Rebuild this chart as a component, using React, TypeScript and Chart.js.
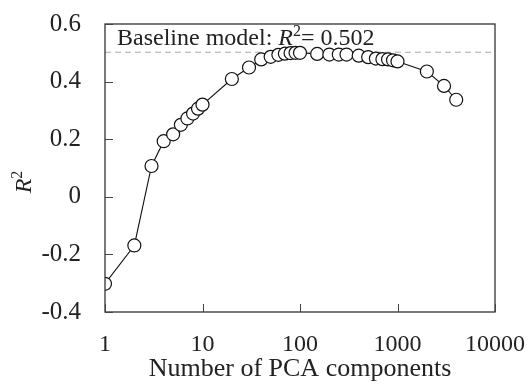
import React, { useEffect, useRef } from "react";
import { Chart, registerables } from "chart.js";

Chart.register(...registerables);

const components = [1, 2, 3, 4, 5, 6, 7, 8, 9, 10, 20, 30, 40, 50, 60, 70, 80, 90, 100, 150, 200, 250, 300, 400, 500, 600, 700, 800, 900, 1000, 2000, 3000, 4000];
const r2Values = [-0.302, -0.169, 0.107, 0.193, 0.217, 0.25, 0.272, 0.289, 0.306, 0.32, 0.409, 0.449, 0.477, 0.486, 0.493, 0.497, 0.499, 0.5, 0.5, 0.496, 0.494, 0.494, 0.494, 0.49, 0.485, 0.48, 0.478, 0.477, 0.474, 0.47, 0.435, 0.385, 0.337];
const baselineR2 = 0.502;
const xTickValues = [1, 10, 100, 1000, 10000];
const yTickValues = [-0.4, -0.2, 0, 0.2, 0.4, 0.6];
const xTitle = "Number of PCA components";
const baselineLabel = "Baseline model: ";
const baselineValueText = "= 0.502";

const FONT = "'Liberation Serif', 'Times New Roman', serif";

const decorPlugin = {
  id: "decor",
  beforeDraw(chart: any) {
    const { ctx } = chart;
    ctx.save();
    ctx.fillStyle = "#ffffff";
    ctx.fillRect(0, 0, chart.width, chart.height);
    ctx.restore();
  },
  afterDraw(chart: any) {
    const { ctx, chartArea } = chart;
    const xs = chart.scales.x;
    const ys = chart.scales.y;
    ctx.save();
    // box
    ctx.strokeStyle = "#333333";
    ctx.lineWidth = 1.3;
    ctx.strokeRect(chartArea.left, chartArea.top, chartArea.right - chartArea.left, chartArea.bottom - chartArea.top);
    // inward ticks
    ctx.lineWidth = 1;
    ctx.strokeStyle = "#444444";
    ctx.beginPath();
    xTickValues.forEach((v) => {
      const px = Math.round(xs.getPixelForValue(v)) + 0.5;
      ctx.moveTo(px, chartArea.bottom);
      ctx.lineTo(px, chartArea.bottom - 8);
    });
    yTickValues.forEach((v) => {
      const py = Math.round(ys.getPixelForValue(v)) + 0.5;
      ctx.moveTo(chartArea.left, py);
      ctx.lineTo(chartArea.left + 8, py);
    });
    ctx.stroke();

    // baseline annotation
    ctx.fillStyle = "#222222";
    ctx.textBaseline = "alphabetic";
    ctx.textAlign = "left";
    let tx = chartArea.left + 12;
    const ty = chartArea.top + 21;
    ctx.font = `24px ${FONT}`;
    ctx.fillText(baselineLabel, tx, ty);
    tx += ctx.measureText(baselineLabel).width;
    ctx.font = `italic 24px ${FONT}`;
    ctx.fillText("R", tx, ty);
    tx += ctx.measureText("R").width;
    ctx.font = `16px ${FONT}`;
    ctx.fillText("2", tx, ty - 9);
    tx += ctx.measureText("2").width;
    ctx.font = `24px ${FONT}`;
    ctx.fillText(baselineValueText, tx, ty);

    // y-axis title R^2 rotated
    ctx.save();
    ctx.translate(25, (chartArea.top + chartArea.bottom) / 2 + 14);
    ctx.rotate(-Math.PI / 2);
    ctx.font = `italic 24px ${FONT}`;
    const rw = ctx.measureText("R").width;
    ctx.font = `16px ${FONT}`;
    const sw = ctx.measureText("2").width;
    const total = rw + sw;
    ctx.textBaseline = "middle";
    ctx.font = `italic 24px ${FONT}`;
    ctx.fillText("R", -total / 2, 0);
    ctx.font = `16px ${FONT}`;
    ctx.fillText("2", -total / 2 + rw, -7);
    ctx.restore();

    ctx.restore();
  },
};

export default function App() {
  const canvasRef = useRef<HTMLCanvasElement | null>(null);

  useEffect(() => {
    document.body.style.margin = "0";
    const canvas = canvasRef.current;
    if (!canvas) return;
    const chart = new Chart(canvas, {
      type: "line",
      data: {
        datasets: [
          {
            label: "baseline",
            data: [
              { x: 1, y: baselineR2 },
              { x: 10000, y: baselineR2 },
            ],
            borderColor: "#aaaaaa",
            borderWidth: 1,
            borderDash: [6, 4],
            pointRadius: 0,
            fill: false,
            order: 2,
          },
          {
            label: "R2",
            data: components.map((c, i) => ({ x: c, y: r2Values[i] })),
            borderColor: "#111111",
            borderWidth: 1.1,
            pointRadius: 6.5,
            pointBorderWidth: 1.2,
            pointBorderColor: "#111111",
            pointBackgroundColor: "#ffffff",
            fill: false,
            tension: 0,
            order: 1,
          },
        ],
      },
      options: {
        animation: false,
        responsive: false,
        maintainAspectRatio: false,
        layout: { padding: { top: 24, right: 35, left: 0, bottom: 0 } },
        plugins: {
          legend: { display: false },
          tooltip: { enabled: false },
        },
        scales: {
          x: {
            type: "logarithmic",
            min: 1,
            max: 10000,
            afterBuildTicks: (scale: any) => {
              scale.ticks = xTickValues.map((v) => ({ value: v }));
            },
            afterFit: (scale: any) => {
              scale.height = 73;
              scale.paddingLeft = 0;
              scale.paddingRight = 0;
            },
            grid: { display: false, drawTicks: false },
            border: { display: false },
            ticks: {
              autoSkip: false,
              maxRotation: 0,
              padding: 18,
              color: "#222222",
              font: { family: FONT, size: 24 },
              callback: (v: any) => String(v),
            },
            title: {
              display: true,
              text: xTitle,
              color: "#222222",
              font: { family: FONT, size: 26 },
              padding: { top: 0, bottom: 0 },
            },
          },
          y: {
            type: "linear",
            min: -0.4,
            max: 0.6,
            afterBuildTicks: (scale: any) => {
              scale.ticks = yTickValues.map((v) => ({ value: v }));
            },
            afterFit: (scale: any) => {
              scale.width = 105;
              scale.paddingTop = 0;
              scale.paddingBottom = 0;
            },
            grid: { display: false, drawTicks: false },
            border: { display: false },
            ticks: {
              padding: 24,
              color: "#222222",
              font: { family: FONT, size: 25 },
              callback: (v: any) => {
                const n = Math.round(Number(v) * 10) / 10;
                return n === 0 ? "0" : n.toFixed(1);
              },
            },
          },
        },
      },
      plugins: [decorPlugin],
    });
    return () => chart.destroy();
  }, []);

  return (
    <div style={{ position: "fixed", left: 0, top: 0, width: 530, height: 385 }}>
      <canvas ref={canvasRef} width={530} height={385} style={{ width: 530, height: 385, display: "block" }} />
    </div>
  );
}
